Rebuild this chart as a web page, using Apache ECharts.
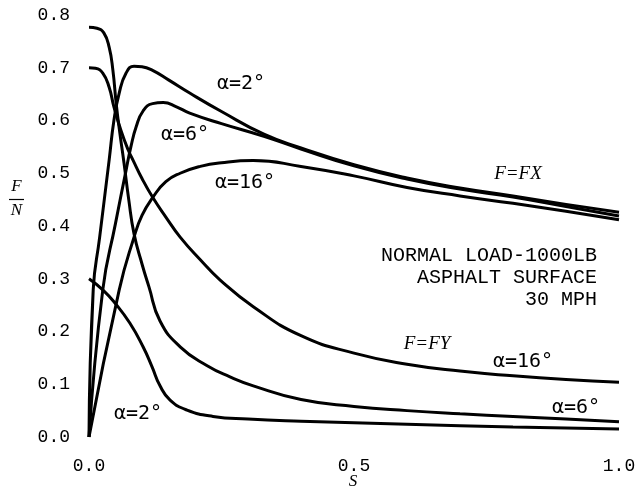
<!DOCTYPE html>
<html>
<head>
<meta charset="utf-8">
<script src="https://cdn.jsdelivr.net/npm/echarts@6/dist/echarts.min.js"></script>
<style>
  html, body { margin: 0; padding: 0; background: #fff; }
  #chart { width: 639px; height: 496px; }
</style>
</head>
<body>
<div id="chart"></div>
<script>
// Slip ratio S (x) vs F/N (y)
var xTicks = [0, 0.5, 1.0];
var yTicks = [0, 0.1, 0.2, 0.3, 0.4, 0.5, 0.6, 0.7, 0.8];

// F = FX (longitudinal)
var fxAlpha2 = [[0,0],[0.008,0.28],[0.02,0.378],[0.038,0.525],[0.047,0.60],[0.057,0.652],[0.07,0.69],[0.085,0.703],[0.1,0.702],[0.12,0.695],[0.15,0.677],[0.19,0.652],[0.25,0.617],[0.33,0.574],[0.4,0.548],[0.5,0.516],[0.6,0.491],[0.7,0.472],[0.8,0.457],[0.9,0.441],[1.0,0.426]];
var fxAlpha6 = [[0,0],[0.026,0.279],[0.05,0.405],[0.07,0.506],[0.079,0.55],[0.089,0.588],[0.102,0.618],[0.12,0.632],[0.14,0.634],[0.165,0.626],[0.19,0.614],[0.25,0.594],[0.33,0.570],[0.4,0.546],[0.5,0.514],[0.6,0.489],[0.7,0.470],[0.8,0.455],[0.9,0.437],[1.0,0.419]];
var fxAlpha16 = [[0,0],[0.057,0.279],[0.085,0.379],[0.1,0.42],[0.121,0.455],[0.145,0.484],[0.172,0.50],[0.21,0.513],[0.25,0.52],[0.31,0.524],[0.4,0.513],[0.5,0.495],[0.6,0.473],[0.7,0.457],[0.8,0.443],[0.9,0.428],[1.0,0.412]];

// F = FY (lateral)
var fyAlpha2 = [[0,0.30],[0.026,0.279],[0.049,0.254],[0.077,0.216],[0.102,0.171],[0.119,0.133],[0.134,0.097],[0.153,0.07],[0.185,0.051],[0.234,0.039],[0.3,0.034],[0.4,0.03],[0.6,0.024],[0.8,0.019],[1.0,0.015]];
var fyAlpha6 = [[0,0.777],[0.015,0.775],[0.028,0.766],[0.038,0.739],[0.045,0.696],[0.051,0.635],[0.057,0.585],[0.066,0.52],[0.075,0.45],[0.085,0.385],[0.1,0.328],[0.113,0.285],[0.134,0.22],[0.172,0.171],[0.223,0.135],[0.266,0.114],[0.31,0.097],[0.4,0.071],[0.5,0.058],[0.6,0.05],[0.7,0.044],[0.8,0.039],[0.9,0.034],[1.0,0.029]];
var fyAlpha16 = [[0,0.70],[0.012,0.699],[0.026,0.69],[0.038,0.663],[0.047,0.626],[0.06,0.582],[0.074,0.544],[0.083,0.525],[0.1,0.49],[0.121,0.453],[0.145,0.417],[0.172,0.379],[0.21,0.336],[0.247,0.298],[0.31,0.247],[0.4,0.192],[0.5,0.159],[0.6,0.138],[0.7,0.125],[0.8,0.116],[0.9,0.109],[1.0,0.104]];

var seriesList = [
  { name: 'FX α=2°', data: fxAlpha2 },
  { name: 'FX α=6°', data: fxAlpha6 },
  { name: 'FX α=16°', data: fxAlpha16 },
  { name: 'FY α=2°', data: fyAlpha2 },
  { name: 'FY α=6°', data: fyAlpha6 },
  { name: 'FY α=16°', data: fyAlpha16 }
];

var monoSerif = '"Liberation Mono", "Courier New", monospace';
var monoSans = '"DejaVu Sans Mono", monospace';
var italicSerif = 'italic 19px "Liberation Serif", "DejaVu Serif", serif';

function txt(x, y, s, font, align) {
  return { type: 'text', x: x, y: y, silent: true,
    style: { text: s, font: font, fill: '#000', align: align || 'center', verticalAlign: 'middle' } };
}

var chart = echarts.init(document.getElementById('chart'), null, { renderer: 'canvas' });
chart.setOption({
  animation: false,
  backgroundColor: '#fff',
  grid: { left: 89, right: 20, top: 15, bottom: 59 },
  xAxis: {
    type: 'value', min: 0, max: 1, interval: 0.5,
    axisLine: { show: false }, axisTick: { show: false }, splitLine: { show: false },
    axisLabel: { margin: 20, color: '#000', fontFamily: monoSerif, fontSize: 18,
      formatter: function (v) { return v.toFixed(1); } }
  },
  yAxis: {
    type: 'value', min: 0, max: 0.8, interval: 0.1,
    axisLine: { show: false }, axisTick: { show: false }, splitLine: { show: false },
    axisLabel: { margin: 19, color: '#000', fontFamily: monoSerif, fontSize: 18,
      formatter: function (v) { return v.toFixed(1); } }
  },
  series: seriesList.map(function (s) {
    return {
      type: 'line', name: s.name, data: s.data,
      showSymbol: false, smooth: 0.5,
      lineStyle: { color: '#000', width: 3 },
      emphasis: { disabled: true }
    };
  }),
  graphic: [
    txt(16.5, 187, 'F', 'italic 17px "Liberation Serif", serif'),
    { type: 'line', silent: true, shape: { x1: 9, y1: 199.5, x2: 24, y2: 199.5 }, style: { stroke: '#000', lineWidth: 1.2 } },
    txt(16.5, 211, 'N', 'italic 17px "Liberation Serif", serif'),
    txt(353, 482, 'S', 'italic 17px "Liberation Serif", serif'),
    txt(241, 84, 'α=2°', '20px ' + monoSans),
    txt(185, 135, 'α=6°', '20px ' + monoSans),
    txt(245, 183, 'α=16°', '20px ' + monoSans),
    txt(518, 174, 'F=FX', italicSerif),
    txt(597, 256, 'NORMAL LOAD-1000LB', '20px ' + monoSerif, 'right'),
    txt(597, 278, 'ASPHALT SURFACE', '20px ' + monoSerif, 'right'),
    txt(597, 300, '30 MPH', '20px ' + monoSerif, 'right'),
    txt(427, 344, 'F=FY', italicSerif),
    txt(523, 362, 'α=16°', '20px ' + monoSans),
    txt(576, 408, 'α=6°', '20px ' + monoSans),
    txt(138, 414, 'α=2°', '20px ' + monoSans)
  ]
});
</script>
</body>
</html>
